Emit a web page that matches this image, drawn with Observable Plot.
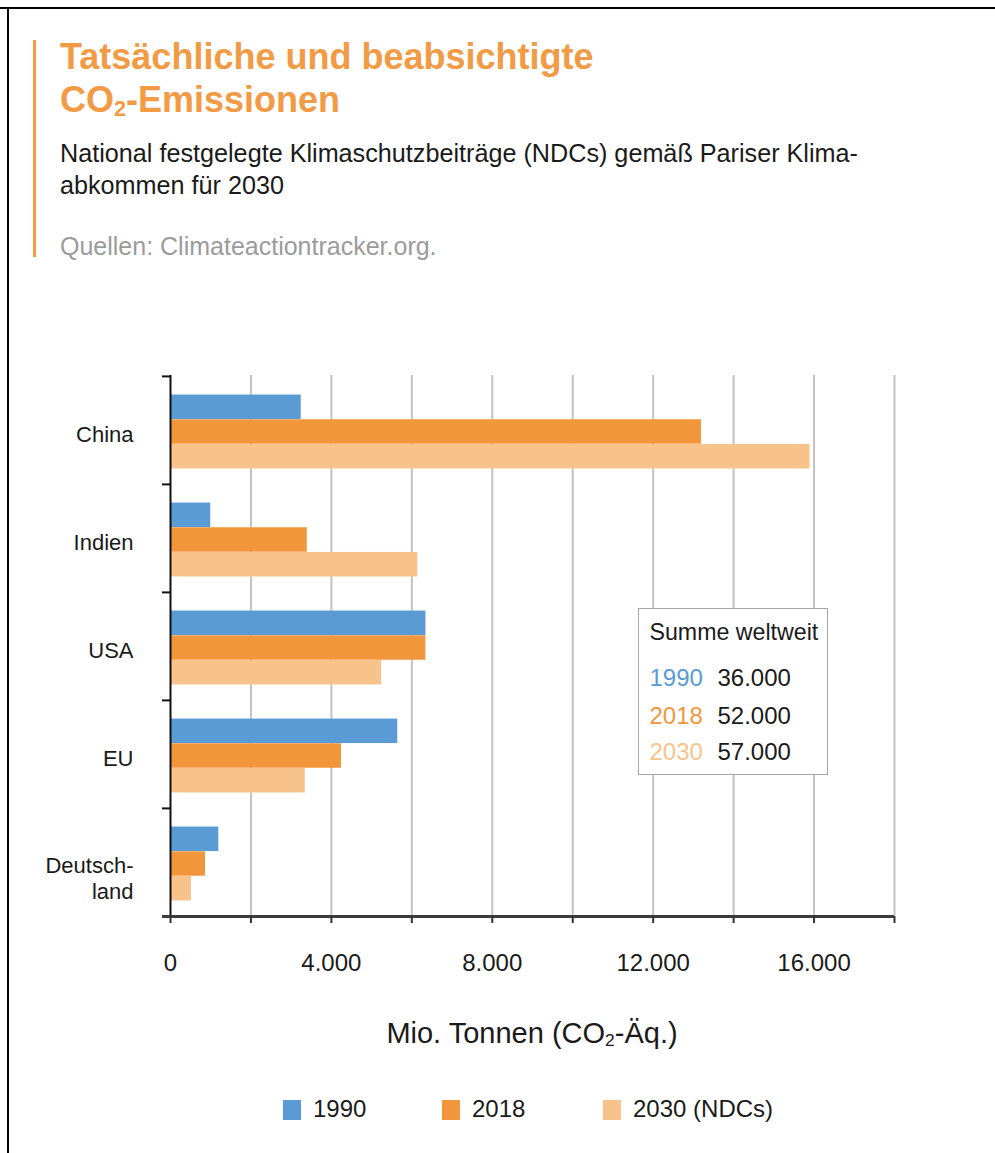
<!DOCTYPE html>
<html>
<head>
<meta charset="utf-8">
<script src="https://cdn.jsdelivr.net/npm/d3@7"></script>
<script src="https://cdn.jsdelivr.net/npm/@observablehq/plot@0.6"></script>
<style>
  body { margin: 0; background: #fff; font-family: "Liberation Sans", Arial, Helvetica, sans-serif; }
  #page { position: relative; width: 995px; height: 1153px; overflow: hidden; background: #fff; }
  .frame-top { position: absolute; left: 0; top: 7px; width: 995px; height: 2px; background: #000; }
  .frame-left { position: absolute; left: 7px; top: 7px; width: 2px; height: 1146px; background: #000; }
  .accent { position: absolute; left: 33px; top: 40px; width: 3px; height: 217px; background: #f29a44; }
  #title { position: absolute; left: 60px; top: 35px; font-size: 36px; line-height: 43px; font-weight: bold; color: #f29a44; white-space: nowrap; }
  #subtitle { position: absolute; left: 60px; top: 137px; font-size: 25.2px; line-height: 32px; color: #1a1a1a; white-space: nowrap; }
  #source { position: absolute; left: 60px; top: 230px; font-size: 25px; line-height: 32px; color: #9b9b9b; white-space: nowrap; }
  sub { font-size: 0.6em; line-height: 0; vertical-align: -0.18em; }
  #chart { position: absolute; left: 0; top: 300px; }
  #xlabel { position: absolute; left: 232px; top: 1016px; width: 600px; text-align: center; font-size: 29px; line-height: 34px; color: #1a1a1a; }
  .leg-item { position: absolute; top: 1097px; height: 24px; font-size: 24px; line-height: 24px; color: #1a1a1a; white-space: nowrap; }
  .leg-sw { position: absolute; top: 3px; width: 18px; height: 20px; }
  .leg-tx { position: absolute; top: 0; white-space: nowrap; }
  #box { position: absolute; left: 638px; top: 608px; width: 190px; height: 167px; box-sizing: border-box; border: 1.5px solid #a6a6a6; background: #fff; }
  #box div { position: absolute; font-size: 24px; line-height: 24px; white-space: nowrap; color: #1a1a1a; }
  #box div.hdr { font-size: 23.2px; }
</style>
</head>
<body>
<div id="page">
  <div class="frame-top"></div>
  <div class="frame-left"></div>
  <div class="accent"></div>
  <div id="title">Tatsächliche und beabsichtigte<br>CO<sub>2</sub>-Emissionen</div>
  <div id="subtitle">National festgelegte Klimaschutzbeiträge (NDCs) gemäß Pariser Klima-<br>abkommen für 2030</div>
  <div id="source">Quellen: Climateactiontracker.org.</div>
  <div id="chart"></div>
  <div id="box"></div>
  <div id="xlabel">Mio. Tonnen (CO<sub>2</sub>-Äq.)</div>
  <div id="legend"></div>
</div>
<script>
// ---- data ----
const countries = ["China", "Indien", "USA", "EU", "Deutschland"];
const countryLabels = ["China", "Indien", "USA", "EU", "Deutsch-\nland"];
const emissions1990 = [3250, 1000, 6350, 5650, 1200];
const emissions2018 = [13200, 3400, 6350, 4250, 870];
const emissions2030 = [15900, 6150, 5250, 3350, 520];
const seriesNames = ["1990", "2018", "2030 (NDCs)"];
const seriesColors = ["#5b9bd5", "#f2963c", "#f8c38b"];
const gridTicks = [0, 2000, 4000, 6000, 8000, 10000, 12000, 14000, 16000, 18000];
const labelTicks = [0, 4000, 8000, 12000, 16000];
const worldTitle = "Summe weltweit";
const worldYears = ["1990", "2018", "2030"];
const worldTotals = [36000, 52000, 57000];

// ---- chart ----
const de = d3.formatLocale({decimal: ",", thousands: ".", grouping: [3], currency: ["", "€"]});
const fmt = de.format(",d");
const font = '"Liberation Sans", Arial, Helvetica, sans-serif';

const W = 995, H = 700, mL = 170, mR = 101, mT = 75, mB = 84;
const band = (H - mT - mB) / countries.length;
const barH = 24.7;
const inset = (band - barH) / 2;
const series = [emissions1990, emissions2018, emissions2030];
const rows = vals => countries.map((c, i) => ({country: c, value: vals[i]}));

const chart = Plot.plot({
  width: W, height: H,
  marginLeft: mL, marginRight: mR, marginTop: mT, marginBottom: mB,
  style: {fontFamily: font, fontSize: "24px", color: "#1a1a1a", background: "transparent", overflow: "visible"},
  x: {domain: [0, 18000], label: null},
  y: {domain: countries, padding: 0, axis: null, label: null},
  marks: [
    Plot.ruleX(gridTicks.filter(d => d > 0), {stroke: "#c2c2c2", strokeWidth: 2}),
    ...series.map((vals, k) => Plot.barX(rows(vals), {
      y: "country", x: "value", fill: seriesColors[k],
      insetTop: inset, insetBottom: inset, dy: (k - 1) * barH + 1.5
    })),
    Plot.ruleX([0], {stroke: "#111", strokeWidth: 2}),
    Plot.ruleY(countries, {y: d => d, dy: -band / 2, x1: -200, x2: 0, stroke: "#111", strokeWidth: 2}),
    Plot.ruleY([countries[countries.length - 1]], {y: d => d, dy: band / 2, x1: -200, x2: 18000, stroke: "#3c3c3c", strokeWidth: 3}),
    Plot.axisX({ticks: gridTicks, tickSize: 7, tickFormat: () => "", stroke: "#333", strokeWidth: 2, label: null}),
    Plot.axisX({ticks: labelTicks, tickSize: 0, tickPadding: 37, tickFormat: fmt, fontSize: 24, fill: "#1a1a1a", label: null}),
    Plot.text(countries.slice(0, 4), {
      y: d => d, text: (d, i) => countryLabels[i], frameAnchor: "left", textAnchor: "end",
      dx: -37, dy: 4, fontSize: 22, fill: "#1a1a1a"
    }),
    Plot.text(countries.slice(4), {
      y: d => d, text: (d, i) => countryLabels[4 + i], frameAnchor: "left", textAnchor: "end",
      lineAnchor: "top", lineHeight: 1.18, dx: -37, dy: -7.5, fontSize: 22, fill: "#1a1a1a"
    })
  ]
});
document.getElementById("chart").appendChild(chart);

// ---- inset box ----
const box = document.getElementById("box");
const t = document.createElement("div");
t.className = "hdr";
t.textContent = worldTitle; t.style.left = "10.5px"; t.style.top = "11px";
box.appendChild(t);
worldYears.forEach((yr, i) => {
  const top = [56.5, 94.5, 130.5][i];
  const a = document.createElement("div");
  a.textContent = yr; a.style.left = "10.5px"; a.style.top = top + "px"; a.style.color = seriesColors[i];
  const b = document.createElement("div");
  b.textContent = fmt(worldTotals[i]); b.style.left = "78.5px"; b.style.top = top + "px";
  box.appendChild(a); box.appendChild(b);
});

// ---- bottom legend ----
const legend = document.getElementById("legend");
const legX = [283, 442, 603];
seriesNames.forEach((name, i) => {
  const item = document.createElement("div");
  item.className = "leg-item"; item.style.left = legX[i] + "px";
  const sw = document.createElement("div");
  sw.className = "leg-sw"; sw.style.left = "0px"; sw.style.background = seriesColors[i];
  const tx = document.createElement("div");
  tx.className = "leg-tx"; tx.style.left = "30px"; tx.textContent = name;
  item.appendChild(sw); item.appendChild(tx);
  legend.appendChild(item);
});
</script>
</body>
</html>
